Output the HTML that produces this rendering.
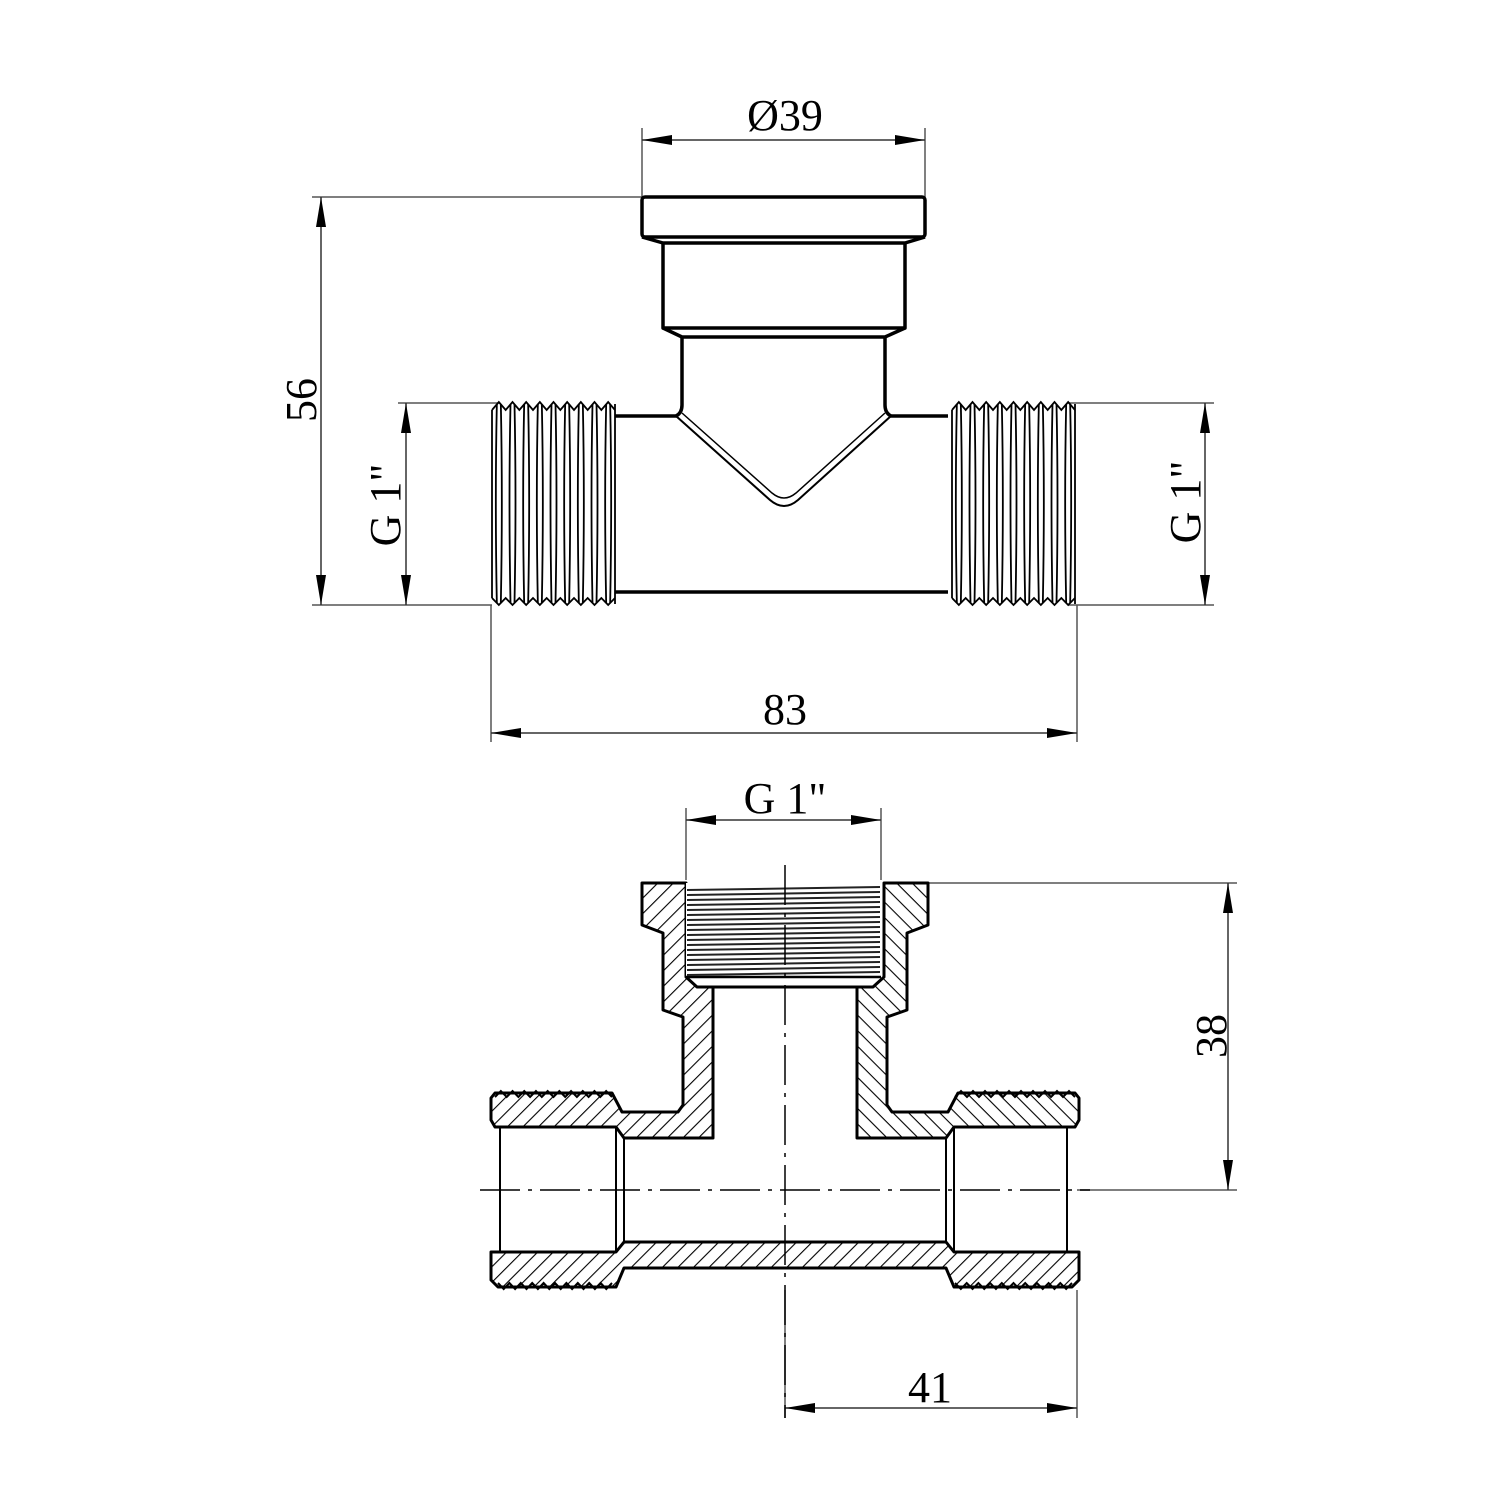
<!DOCTYPE html>
<html><head><meta charset="utf-8"><style>
html,body{margin:0;padding:0;background:#fff}
svg{display:block}
text{font-family:"Liberation Serif",serif;font-size:44px;fill:#000}
</style></head><body>
<svg id="s" width="1500" height="1500" viewBox="0 0 1500 1500" xmlns="http://www.w3.org/2000/svg">
<defs>
<pattern id="h" patternUnits="userSpaceOnUse" width="11" height="11" patternTransform="rotate(45)">
<rect width="11" height="11" fill="#fff"/><line x1="0" y1="0" x2="0" y2="11" stroke="#000" stroke-width="2.2"/>
</pattern>
<marker id="a" viewBox="0 0 30 10" refX="30" refY="5" markerWidth="30" markerHeight="10" markerUnits="userSpaceOnUse" orient="auto-start-reverse"><path d="M0,0 L30,5 L0,10 z" fill="#000"/></marker>
</defs>
<g stroke="#555" stroke-width="1.5" fill="none">
<line x1="642" y1="128" x2="642" y2="197"/><line x1="925" y1="128" x2="925" y2="197"/>
<line x1="642" y1="140" x2="925" y2="140" stroke="#333" marker-start="url(#a)" marker-end="url(#a)"/>
<line x1="312" y1="197" x2="642" y2="197"/><line x1="312" y1="605" x2="492" y2="605"/>
<line x1="321" y1="197" x2="321" y2="605" stroke="#333" marker-start="url(#a)" marker-end="url(#a)"/>
<line x1="398" y1="403" x2="500" y2="403"/>
<line x1="406" y1="403" x2="406" y2="605" stroke="#333" marker-start="url(#a)" marker-end="url(#a)"/>
<line x1="1068" y1="403" x2="1214" y2="403"/><line x1="1068" y1="605" x2="1214" y2="605"/>
<line x1="1205" y1="403" x2="1205" y2="605" stroke="#333" marker-start="url(#a)" marker-end="url(#a)"/>
<line x1="491" y1="605" x2="491" y2="742"/><line x1="1077" y1="605" x2="1077" y2="742"/>
<line x1="491" y1="733" x2="1077" y2="733" stroke="#333" marker-start="url(#a)" marker-end="url(#a)"/>
<line x1="686" y1="808" x2="686" y2="880"/><line x1="881" y1="808" x2="881" y2="880"/>
<line x1="686" y1="820" x2="881" y2="820" stroke="#333" marker-start="url(#a)" marker-end="url(#a)"/>
<line x1="925" y1="883" x2="1237" y2="883"/><line x1="1077" y1="1190" x2="1237" y2="1190"/>
<line x1="1228" y1="883" x2="1228" y2="1190" stroke="#333" marker-start="url(#a)" marker-end="url(#a)"/>
<line x1="785" y1="1290" x2="785" y2="1418"/><line x1="1077" y1="1290" x2="1077" y2="1418"/>
<line x1="785" y1="1408" x2="1077" y2="1408" stroke="#333" marker-start="url(#a)" marker-end="url(#a)"/>
</g>
<text x="785" y="130" text-anchor="middle">Ø39</text>
<text x="785" y="724" text-anchor="middle">83</text>
<text x="785" y="813" text-anchor="middle">G 1"</text>
<text x="930" y="1402" text-anchor="middle">41</text>
<text transform="translate(316,400) rotate(-90)" text-anchor="middle">56</text>
<text transform="translate(400,505) rotate(-90)" text-anchor="middle">G 1"</text>
<text transform="translate(1200,502) rotate(-90)" text-anchor="middle">G 1"</text>
<text transform="translate(1226,1036) rotate(-90)" text-anchor="middle">38</text>

<g stroke="#000" stroke-width="3.5" fill="none" stroke-linejoin="round">
<rect x="642" y="197" width="283" height="40" rx="3"/>
<path d="M642,237 L663,243 L905,243 L925,237"/>
<path d="M663,243 L663,328 L905,328 L905,243"/>
<path d="M663,328 L682,337 L885,337 L905,328"/>
<path d="M682,337 L682,405 Q682,413 676,416 L615,416"/>
<path d="M885,337 L885,405 Q885,413 891,416 L948,416"/>
<line x1="615" y1="592" x2="948" y2="592"/>
</g>
<g stroke="#000" stroke-width="2" fill="none">
<path d="M676,416 L770,500 Q784,512 798,500 L891,416"/>
<path d="M682,413 L772,493 Q784,503 796,493 L885,413" stroke-width="1.5"/>
</g>
<g id="thr" stroke="#000" stroke-width="1.8" fill="none"></g>

<g stroke="#000" stroke-width="3" stroke-linejoin="round">
<path fill="url(#h)" d="M642,883 L686,883 L686,977 L697,987 L713,987 L713,1138 L624,1138 L616,1127 L495,1127 L491,1120 L491,1098 L495,1093 L612,1093 L622,1112 L678,1112 L683,1105 L683,1017 L663,1010 L663,933 L642,925 Z"/>
<path fill="url(#h)" transform="translate(1570,0) scale(-1,1)" d="M642,883 L686,883 L686,977 L697,987 L713,987 L713,1138 L624,1138 L616,1127 L495,1127 L491,1120 L491,1098 L495,1093 L612,1093 L622,1112 L678,1112 L683,1105 L683,1017 L663,1010 L663,933 L642,925 Z"/>
<path fill="url(#h)" d="M491,1252 L616,1252 L624,1242 L946,1242 L954,1252 L1079,1252 L1079,1280 L1072,1287 L954,1287 L946,1268 L624,1268 L616,1287 L498,1287 L491,1280 Z"/>
<rect x="686" y="883" width="195" height="94" fill="#fff" stroke="none"/>
</g>
<g stroke="#000" stroke-width="2" fill="none">
<line x1="500" y1="1127" x2="500" y2="1252"/><line x1="616" y1="1127" x2="616" y2="1252"/><line x1="624" y1="1138" x2="624" y2="1242"/>
<line x1="1067" y1="1127" x2="1067" y2="1252"/><line x1="954" y1="1127" x2="954" y2="1252"/><line x1="946" y1="1138" x2="946" y2="1242"/>
<line x1="686" y1="977" x2="881" y2="977" stroke-width="2.5"/>
<line x1="697" y1="987" x2="873" y2="987" stroke-width="3"/>
</g>
<g id="bt" stroke="#222" stroke-width="2" fill="none"></g>
<g stroke="#000" stroke-width="1.5" fill="none" stroke-dasharray="40,8,4,8">
<line x1="785" y1="865" x2="785" y2="1418"/>
<line x1="480" y1="1190" x2="1090" y2="1190"/>
</g>
</svg>
<script>
var NS="http://www.w3.org/2000/svg";
function el(p,t,a){var e=document.createElementNS(NS,t);for(var k in a)e.setAttribute(k,a[k]);p.appendChild(e);return e;}
var thr=document.getElementById('thr');
function threads(x0,x1){
 var n=9,p=(x1-x0)/n;
 var top="M"+x0+",410",bot="M"+x0+",598";
 for(var i=0;i<n;i++){
  var a=x0+i*p;
  top+=" L"+(a+p/2)+",402 L"+(a+p)+",410";
  bot+=" L"+(a+p/2)+",605 L"+(a+p)+",598";
  el(thr,'path',{d:"M"+(a+p/2-2)+",404 Q"+(a+p/2-4)+",500 "+(a+p/2-2)+",603"});
  el(thr,'path',{d:"M"+(a+p/2+2)+",404 Q"+(a+p/2+4)+",500 "+(a+p/2+2)+",603"});
 }
 el(thr,'path',{d:top});el(thr,'path',{d:bot});
 el(thr,'line',{x1:x0,y1:410,x2:x0,y2:598});el(thr,'line',{x1:x1,y1:404,x2:x1,y2:604});
}
threads(492,615);threads(952,1075);
var bt=document.getElementById('bt');
for(var y=887;y<976;y+=5){el(bt,'path',{d:"M687,"+(y+3)+" L880,"+y});}
function teeth(x0,x1,y,dir){var d="M"+x0+","+y;var n=10,p=(x1-x0)/n;for(var i=0;i<n;i++){var a=x0+i*p;d+=" L"+(a+p/2)+","+(y+dir*6)+" L"+(a+p)+","+y;}el(bt,'path',{d:d,stroke:'#000','stroke-width':2});}
teeth(495,612,1097,-1);teeth(955,1075,1097,-1);teeth(498,612,1283,1);teeth(955,1072,1283,1);
</script>
</body></html>
